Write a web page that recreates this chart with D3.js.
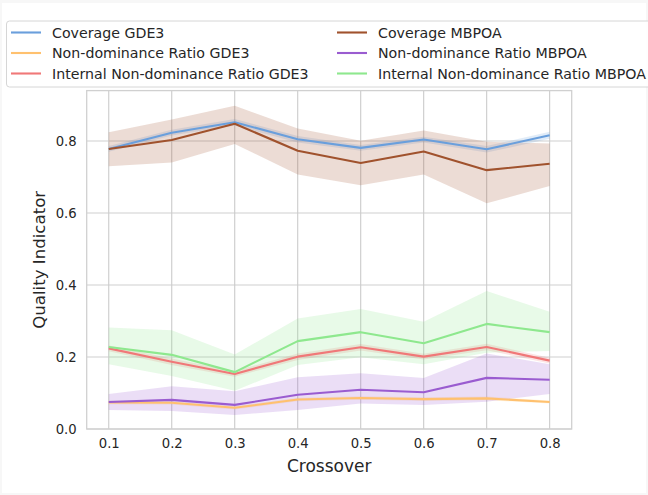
<!DOCTYPE html>
<html>
<head>
<meta charset="utf-8">
<script src="https://cdn.jsdelivr.net/npm/d3@7"></script>
<style>
  body { margin: 0; background: #f7f7f7; }
  svg { display: block; font-family: "DejaVu Sans", sans-serif; }
</style>
</head>
<body>
<svg id="chart" width="648" height="495"></svg>
<script>
// crossover values on the x axis
var crossover = [0.1, 0.2, 0.3, 0.4, 0.5, 0.6, 0.7, 0.8];

// means
var coverageGDE3   = [0.778, 0.823, 0.852, 0.805, 0.781, 0.804, 0.777, 0.816];
var nondomGDE3     = [0.074, 0.073, 0.059, 0.082, 0.086, 0.083, 0.085, 0.075];
var internalGDE3   = [0.224, 0.187, 0.153, 0.201, 0.227, 0.201, 0.228, 0.190];
var coverageMBPOA  = [0.778, 0.803, 0.848, 0.773, 0.739, 0.771, 0.719, 0.737];
var nondomMBPOA    = [0.075, 0.081, 0.067, 0.095, 0.109, 0.102, 0.142, 0.137];
var internalMBPOA  = [0.228, 0.206, 0.158, 0.244, 0.269, 0.238, 0.292, 0.269];

// confidence bands (lower / upper)
var coverageGDE3Lo  = [0.770, 0.815, 0.843, 0.796, 0.773, 0.796, 0.768, 0.806];
var coverageGDE3Hi  = [0.786, 0.831, 0.861, 0.814, 0.789, 0.812, 0.786, 0.826];
var nondomGDE3Lo    = [0.069, 0.068, 0.054, 0.077, 0.081, 0.078, 0.080, 0.071];
var nondomGDE3Hi    = [0.079, 0.078, 0.064, 0.087, 0.091, 0.088, 0.090, 0.079];
var internalGDE3Lo  = [0.216, 0.178, 0.145, 0.192, 0.218, 0.193, 0.219, 0.182];
var internalGDE3Hi  = [0.232, 0.196, 0.161, 0.210, 0.236, 0.209, 0.237, 0.198];
var coverageMBPOALo = [0.730, 0.740, 0.792, 0.707, 0.677, 0.707, 0.627, 0.675];
var coverageMBPOAHi = [0.824, 0.860, 0.898, 0.835, 0.801, 0.829, 0.798, 0.793];
var nondomMBPOALo   = [0.053, 0.050, 0.039, 0.053, 0.071, 0.067, 0.076, 0.097];
var nondomMBPOAHi   = [0.097, 0.119, 0.105, 0.144, 0.155, 0.142, 0.210, 0.180];
var internalMBPOALo = [0.180, 0.147, 0.106, 0.178, 0.199, 0.180, 0.212, 0.217];
var internalMBPOAHi = [0.282, 0.274, 0.207, 0.307, 0.333, 0.298, 0.383, 0.326];

var seriesNames = ["Coverage GDE3", "Non-dominance Ratio GDE3", "Internal Non-dominance Ratio GDE3",
                   "Coverage MBPOA", "Non-dominance Ratio MBPOA", "Internal Non-dominance Ratio MBPOA"];
var seriesColors = ["#6a9fdc", "#ffc16f", "#f07878", "#a0522d", "#9a5cd0", "#8ee88e"];

var yTicks = [0.0, 0.2, 0.4, 0.6, 0.8];

var series = [
  {mean: coverageGDE3, lo: coverageGDE3Lo, hi: coverageGDE3Hi},
  {mean: nondomGDE3, lo: nondomGDE3Lo, hi: nondomGDE3Hi},
  {mean: internalGDE3, lo: internalGDE3Lo, hi: internalGDE3Hi},
  {mean: coverageMBPOA, lo: coverageMBPOALo, hi: coverageMBPOAHi},
  {mean: nondomMBPOA, lo: nondomMBPOALo, hi: nondomMBPOAHi},
  {mean: internalMBPOA, lo: internalMBPOALo, hi: internalMBPOAHi}
];
series.forEach(function(s, i) { s.name = seriesNames[i]; s.color = seriesColors[i]; });

var svg = d3.select("#chart");

// white figure with faint frame
svg.append("rect")
  .attr("x", 2).attr("y", 3)
  .attr("width", 644).attr("height", 490)
  .attr("fill", "#ffffff");

var plot = {l: 86.7, r: 571.7, t: 90.6, b: 429};

var x = d3.scaleLinear()
  .domain([0.065, 0.835])
  .range([plot.l, plot.r]);

var y = d3.scaleLinear()
  .domain([0, 0.94])
  .range([plot.b, plot.t]);

var textColor = "#262626";

// grid
var grid = svg.append("g");
grid.selectAll(".hgrid").data(yTicks)
  .enter().append("line")
  .attr("class", "hgrid")
  .attr("x1", plot.l).attr("x2", plot.r)
  .attr("y1", function(d) { return y(d); })
  .attr("y2", function(d) { return y(d); })
  .attr("stroke", "#dfdfdf")
  .attr("stroke-width", 1.6);

grid.selectAll(".vgrid").data(crossover)
  .enter().append("line")
  .attr("class", "vgrid")
  .attr("y1", plot.t).attr("y2", plot.b)
  .attr("x1", function(d) { return x(d); })
  .attr("x2", function(d) { return x(d); })
  .attr("stroke", "#cbcbcb")
  .attr("stroke-width", 1.1);

// bands + lines
var area = d3.area()
  .x(function(d, i) { return x(crossover[i]); })
  .y0(function(d) { return y(d[0]); })
  .y1(function(d) { return y(d[1]); });

var line = d3.line()
  .x(function(d, i) { return x(crossover[i]); })
  .y(function(d) { return y(d); });

var marks = svg.append("g");
series.forEach(function(s) {
  marks.append("path")
    .datum(s.lo.map(function(v, i) { return [v, s.hi[i]]; }))
    .attr("d", area)
    .attr("fill", s.color)
    .attr("fill-opacity", 0.2);
});
series.forEach(function(s) {
  marks.append("path")
    .datum(s.mean)
    .attr("d", line)
    .attr("fill", "none")
    .attr("stroke", s.color)
    .attr("stroke-width", 2.1)
    .attr("stroke-linejoin", "round");
});

// frame
svg.append("rect")
  .attr("x", plot.l).attr("y", plot.t)
  .attr("width", plot.r - plot.l).attr("height", plot.b - plot.t)
  .attr("fill", "none")
  .attr("stroke", "#d0d0d0")
  .attr("stroke-width", 1.3);

// axes
var xAxis = svg.append("g")
  .attr("transform", "translate(0," + plot.b + ")")
  .call(d3.axisBottom(x).tickValues(crossover).tickFormat(d3.format(".1f")).tickSize(0).tickPadding(10));
var yAxis = svg.append("g")
  .attr("transform", "translate(" + plot.l + ",0)")
  .call(d3.axisLeft(y).tickValues(yTicks).tickFormat(d3.format(".1f")).tickSize(0).tickPadding(10));
[xAxis, yAxis].forEach(function(a) {
  a.select(".domain").remove();
  a.selectAll("text")
    .attr("fill", textColor)
    .style("font-size", "13.2px")
    .style("font-family", "DejaVu Sans, sans-serif");
});
yAxis.selectAll("text").attr("dy", "0.36em");

svg.append("text")
  .attr("x", (plot.l + plot.r) / 2)
  .attr("y", 472)
  .attr("text-anchor", "middle")
  .attr("fill", textColor)
  .style("font-size", "17px")
  .text("Crossover");

svg.append("text")
  .attr("transform", "translate(" + 45 + "," + ((plot.t + plot.b) / 2) + ") rotate(-90)")
  .attr("text-anchor", "middle")
  .attr("fill", textColor)
  .style("font-size", "16.6px")
  .text("Quality Indicator");

// legend
var legend = svg.append("g");
legend.append("rect")
  .attr("x", 6.5).attr("y", 21)
  .attr("width", 645).attr("height", 66)
  .attr("rx", 3)
  .attr("fill", "#ffffff")
  .attr("fill-opacity", 0.8)
  .attr("stroke", "#d6d6d6")
  .attr("stroke-width", 1);

var legendItems = legend.selectAll(".item").data(series)
  .enter().append("g")
  .attr("class", "item")
  .attr("transform", function(d, i) {
    var col = Math.floor(i / 3), row = i % 3;
    return "translate(" + [col === 0 ? 11 : 337, 32.5 + row * 20.5] + ")";
  });

legendItems.append("line")
  .attr("x1", 0).attr("x2", 30)
  .attr("stroke", function(d) { return d.color; })
  .attr("stroke-width", 2.1);

legendItems.append("text")
  .attr("x", 41)
  .attr("dy", "0.36em")
  .attr("fill", textColor)
  .style("font-size", "14.2px")
  .text(function(d) { return d.name; });
</script>
</body>
</html>
